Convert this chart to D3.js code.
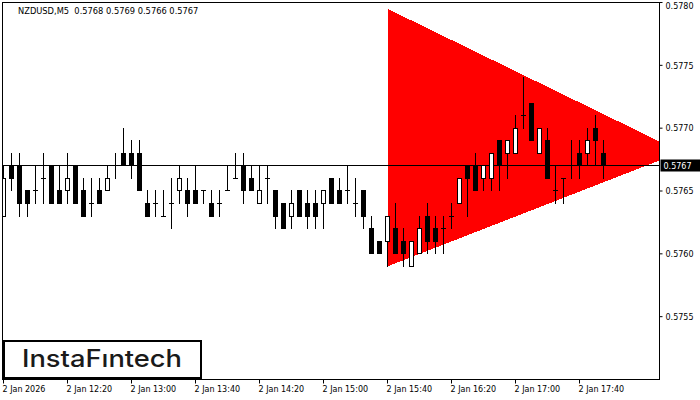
<!DOCTYPE html>
<html>
<head>
<meta charset="utf-8">
<script src="https://cdnjs.cloudflare.com/ajax/libs/d3/7.8.5/d3.min.js"></script>
<style>
  body { margin: 0; background: #fff; }
  svg { display: block; font-family: "DejaVu Sans", sans-serif; }
</style>
</head>
<body>
<div class="chart"></div>
<script>
var title = 'NZDUSD,M5  0.5768 0.5769 0.5766 0.5767';

// M5 bars, 11:40 .. 17:55
var opens = [0.5763, 0.5767, 0.5767, 0.5765, 0.5765, 0.5766, 0.5767, 0.5765, 0.5765, 0.5767,
  0.5765, 0.5764, 0.5765, 0.5765, 0.5767, 0.5768, 0.5768, 0.5768, 0.5764, 0.5764,
  0.5763, 0.5764, 0.5765, 0.5765, 0.5765, 0.5765, 0.5764, 0.5764, 0.5765, 0.5766,
  0.5767, 0.5766, 0.5764, 0.5766, 0.5765, 0.5764, 0.5763, 0.5765, 0.5764, 0.5764,
  0.5764, 0.5766, 0.5765, 0.5765, 0.5764, 0.5765, 0.5762, 0.5761, 0.5761, 0.5762,
  0.5761, 0.5759, 0.5760, 0.5763, 0.5762, 0.5762, 0.5763, 0.5764, 0.5767, 0.5767,
  0.5766, 0.5766, 0.5769, 0.5768, 0.5768, 0.5771, 0.5772, 0.5768, 0.5769, 0.5765,
  0.5766, 0.5767, 0.5768, 0.5768, 0.5770, 0.5768];
var highs = [0.5767, 0.5768, 0.5768, 0.5765, 0.5767, 0.5768, 0.5767, 0.5767, 0.5768, 0.5767,
  0.5766, 0.5766, 0.5766, 0.5767, 0.5768, 0.5770, 0.5769, 0.5769, 0.5765, 0.5765,
  0.5765, 0.5766, 0.5767, 0.5766, 0.5767, 0.5765, 0.5765, 0.5765, 0.5767, 0.5768,
  0.5768, 0.5767, 0.5767, 0.5767, 0.5765, 0.5764, 0.5765, 0.5765, 0.5765, 0.5765,
  0.5765, 0.5766, 0.5766, 0.5767, 0.5766, 0.5765, 0.5763, 0.5761, 0.5763, 0.5764,
  0.5762, 0.5761, 0.5763, 0.5764, 0.5763, 0.5763, 0.5764, 0.5766, 0.5767, 0.5768,
  0.5767, 0.5768, 0.5769, 0.5769, 0.5771, 0.5774, 0.5772, 0.5770, 0.5770, 0.5767,
  0.5766, 0.5769, 0.5769, 0.5770, 0.5771, 0.5769];
var lows = [0.5763, 0.5765, 0.5763, 0.5763, 0.5764, 0.5764, 0.5764, 0.5764, 0.5764, 0.5764,
  0.5763, 0.5763, 0.5764, 0.5765, 0.5766, 0.5767, 0.5766, 0.5765, 0.5763, 0.5763,
  0.5763, 0.5762, 0.5764, 0.5763, 0.5764, 0.5764, 0.5763, 0.5763, 0.5765, 0.5766,
  0.5764, 0.5765, 0.5764, 0.5764, 0.5762, 0.5762, 0.5762, 0.5763, 0.5762, 0.5762,
  0.5762, 0.5764, 0.5764, 0.5764, 0.5763, 0.5762, 0.5760, 0.5760, 0.5759, 0.5760,
  0.5759, 0.5759, 0.5760, 0.5760, 0.5760, 0.5760, 0.5762, 0.5764, 0.5763, 0.5765,
  0.5765, 0.5765, 0.5765, 0.5766, 0.5768, 0.5770, 0.5769, 0.5768, 0.5766, 0.5764,
  0.5764, 0.5766, 0.5766, 0.5767, 0.5767, 0.5766];
var closes = [0.5766, 0.5766, 0.5764, 0.5764, 0.5765, 0.5766, 0.5764, 0.5764, 0.5766, 0.5764,
  0.5763, 0.5764, 0.5764, 0.5766, 0.5767, 0.5767, 0.5767, 0.5765, 0.5763, 0.5764,
  0.5763, 0.5764, 0.5766, 0.5764, 0.5764, 0.5765, 0.5763, 0.5764, 0.5765, 0.5766,
  0.5765, 0.5765, 0.5765, 0.5766, 0.5763, 0.5762, 0.5764, 0.5763, 0.5763, 0.5763,
  0.5765, 0.5764, 0.5764, 0.5765, 0.5764, 0.5763, 0.5760, 0.5760, 0.5763, 0.5760,
  0.5760, 0.5761, 0.5762, 0.5761, 0.5761, 0.5762, 0.5763, 0.5766, 0.5766, 0.5765,
  0.5767, 0.5768, 0.5767, 0.5769, 0.5770, 0.5771, 0.5769, 0.5770, 0.5766, 0.5765,
  0.5766, 0.5767, 0.5767, 0.5769, 0.5769, 0.5767];

var currentPrice = 0.5767;
var priceTicks = [0.5755, 0.5760, 0.5765, 0.5770, 0.5775, 0.5780];
var timeTickBars = [0, 8, 16, 24, 32, 40, 48, 56, 64, 72];
var timeTickLabels = ['2 Jan 2026', '2 Jan 12:20', '2 Jan 13:00', '2 Jan 13:40', '2 Jan 14:20',
  '2 Jan 15:00', '2 Jan 15:40', '2 Jan 16:20', '2 Jan 17:00', '2 Jan 17:40'];
// triangle pattern: [bar index, price]
var trianglePoints = [[48, 0.57795], [84.7, 0.57681], [48, 0.5759]];

var width = 700,
  height = 400,
  plot = { left: 2.5, top: 2.5, right: 659.5, bottom: 379.5 },
  bodyW = 5;

var svg = d3.select('.chart')
  .append('svg')
  .attr('width', width)
  .attr('height', height);

var x = d3.scaleLinear()
  .domain([0, 82])
  .range([3.5, 659.5]);

var y = d3.scaleLinear()
  .domain([0.5750, 0.5780])
  .range([plot.bottom, plot.top]);

function py(p) {
  return Math.floor(y(p)) + 0.5;
}

svg.append('clipPath')
  .attr('id', 'plotClip')
  .append('rect')
  .attr('x', plot.left + 0.5)
  .attr('y', plot.top + 0.5)
  .attr('width', plot.right - plot.left - 1)
  .attr('height', plot.bottom - plot.top - 1);

var g = svg.append('g')
  .attr('clip-path', 'url(#plotClip)');

g.append('polygon')
  .attr('points', trianglePoints.map(d => x(d[0]) + ',' + y(d[1])).join(' '))
  .attr('fill', '#ff0000')
  .attr('shape-rendering', 'crispEdges');

g.append('line')
  .attr('x1', plot.left)
  .attr('x2', plot.right)
  .attr('y1', py(currentPrice))
  .attr('y2', py(currentPrice))
  .attr('stroke', '#000')
  .attr('stroke-width', 1);

var bars = d3.range(opens.length).map(function (i) {
  return { i: i, o: opens[i], h: highs[i], l: lows[i], c: closes[i] };
});

var candle = g.append('g')
  .attr('class', 'candles')
  .selectAll('g')
  .data(bars)
  .enter()
  .append('g');

candle.append('line')
  .attr('x1', d => x(d.i))
  .attr('x2', d => x(d.i))
  .attr('y1', d => Math.floor(y(d.h)))
  .attr('y2', d => Math.floor(y(d.l)) + 1)
  .attr('stroke', '#000')
  .attr('stroke-width', 1);

// doji: flat tick
candle.filter(d => d.o === d.c)
  .append('line')
  .attr('x1', d => x(d.i) - bodyW / 2)
  .attr('x2', d => x(d.i) + bodyW / 2)
  .attr('y1', d => py(d.o))
  .attr('y2', d => py(d.o))
  .attr('stroke', '#000')
  .attr('stroke-width', 1);

// bearish: solid black
candle.filter(d => d.c < d.o)
  .append('rect')
  .attr('x', d => x(d.i) - bodyW / 2)
  .attr('y', d => Math.floor(y(d.o)))
  .attr('width', bodyW)
  .attr('height', d => Math.floor(y(d.c)) - Math.floor(y(d.o)) + 1)
  .attr('fill', '#000');

// bullish: hollow white
candle.filter(d => d.c > d.o)
  .append('rect')
  .attr('x', d => x(d.i) - bodyW / 2 + 0.5)
  .attr('y', d => Math.floor(y(d.c)) + 0.5)
  .attr('width', bodyW - 1)
  .attr('height', d => Math.floor(y(d.o)) - Math.floor(y(d.c)))
  .attr('fill', '#fff')
  .attr('stroke', '#000')
  .attr('stroke-width', 1);

// frame
svg.append('rect')
  .attr('x', plot.left)
  .attr('y', plot.top)
  .attr('width', plot.right - plot.left)
  .attr('height', plot.bottom - plot.top)
  .attr('fill', 'none')
  .attr('stroke', '#000')
  .attr('stroke-width', 1);

// price axis
var yAxis = svg.append('g')
  .attr('transform', 'translate(' + plot.right + ',-0.5)')
  .call(d3.axisRight(y)
    .tickValues(priceTicks)
    .tickSize(3)
    .tickPadding(3)
    .tickFormat(d3.format('.4f')));
yAxis.select('.domain').remove();
yAxis.selectAll('text')
  .attr('font-family', '"DejaVu Sans", sans-serif')
  .attr('font-size', 8)
  .attr('fill', '#000')
  .attr('dy', d => d === 0.5780 ? '0.8em' : '0.4em');

// time axis
var xAxis = svg.append('g')
  .attr('transform', 'translate(-0.5,' + plot.bottom + ')')
  .call(d3.axisBottom(x)
    .tickValues(timeTickBars)
    .tickSize(4)
    .tickPadding(3)
    .tickFormat((d, i) => timeTickLabels[i]));
xAxis.select('.domain').remove();
xAxis.selectAll('text')
  .attr('font-family', '"DejaVu Sans", sans-serif')
  .attr('font-size', 8)
  .attr('fill', '#000')
  .attr('text-anchor', 'start')
  .attr('x', -1);

// current price label
svg.append('rect')
  .attr('x', plot.right + 1)
  .attr('y', py(currentPrice) - 6)
  .attr('width', width - plot.right)
  .attr('height', 12)
  .attr('fill', '#000');
svg.append('text')
  .attr('x', plot.right + 4)
  .attr('y', py(currentPrice) + 3)
  .attr('font-size', 8)
  .attr('fill', '#fff')
  .text(d3.format('.4f')(currentPrice));

// symbol line
svg.append('text')
  .attr('x', 18)
  .attr('y', 14)
  .attr('font-size', 8.3)
  .attr('fill', '#000')
  .style('white-space', 'pre')
  .text(title);

// logo
svg.append('rect')
  .attr('x', 4)
  .attr('y', 341)
  .attr('width', 197)
  .attr('height', 37)
  .attr('fill', '#fff')
  .attr('stroke', '#000')
  .attr('stroke-width', 2);
svg.append('text')
  .attr('x', 102)
  .attr('y', 367)
  .attr('text-anchor', 'middle')
  .attr('font-family', 'Inter, "Noto Sans", sans-serif')
  .attr('font-size', 24)
  .attr('font-weight', 500)
  .attr('fill', '#1a1a1a')
  .attr('textLength', 160)
  .attr('lengthAdjust', 'spacingAndGlyphs')
  .text('InstaF\u0131ntech');
</script>
</body>
</html>
